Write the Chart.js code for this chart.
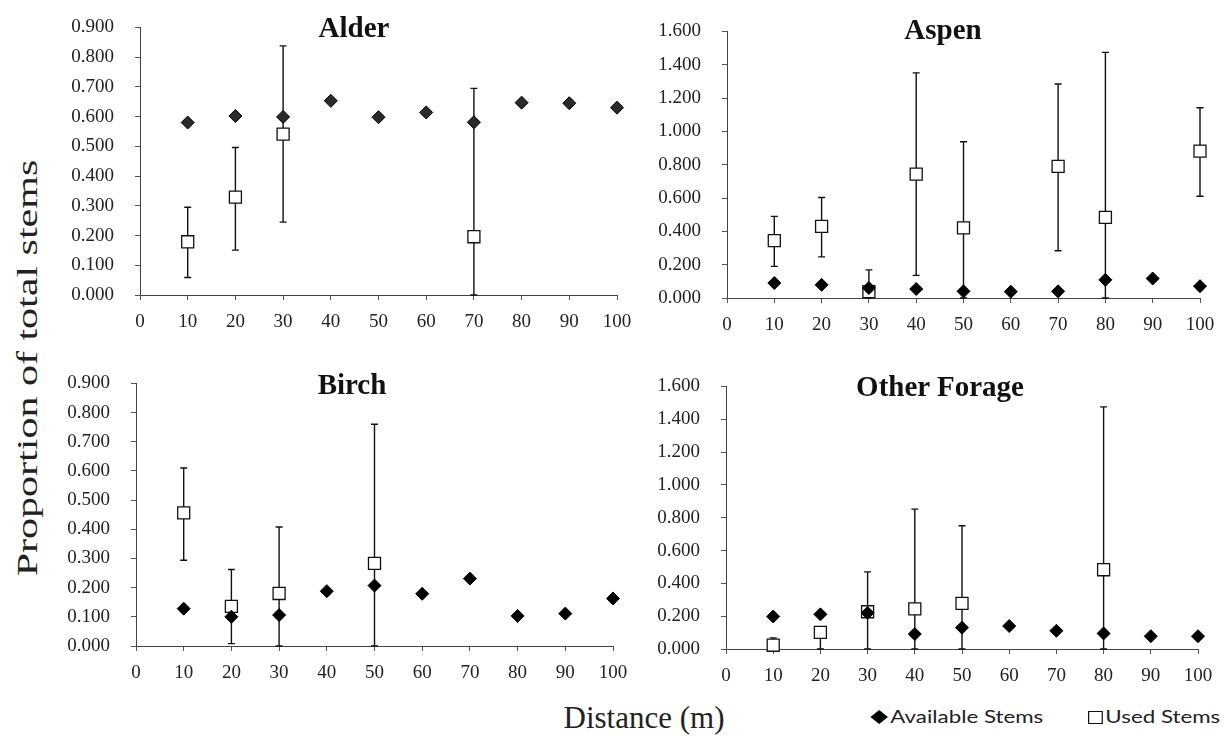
<!DOCTYPE html>
<html>
<head>
<meta charset="utf-8">
<script src="https://cdn.jsdelivr.net/npm/chart.js@4"></script>
<style>
  body { margin: 0; background: #fff; width: 1231px; height: 742px; position: relative; overflow: hidden; font-family: "Liberation Serif", serif; }
  canvas { position: absolute; }
  .t { position: absolute; transform: translate(-50%, -50%); white-space: nowrap; line-height: 1; color: #111; }
  .ptitle { font: bold 29px "Liberation Serif", "Times New Roman", serif; }
  .axt { font: 31px "Liberation Serif", "Times New Roman", serif; color: #222; }
  .leg { position: absolute; top: 705px; font: 18px Lato, "Open Sans", sans-serif; color: #222; white-space: nowrap; transform: scaleX(1.24); transform-origin: left center; }
  .dia { display: inline-block; width: 10px; height: 10px; background: #000; transform: rotate(45deg); margin-right: 4px; vertical-align: 1px; }
  .sq { display: inline-block; width: 10px; height: 11px; border: 1.3px solid #111; margin-right: 2px; vertical-align: -1px; }
</style>
</head>
<body>
<canvas id="alder"></canvas>
<canvas id="aspen"></canvas>
<canvas id="birch"></canvas>
<canvas id="other"></canvas>

<div class="t ptitle" style="left:354px; top:27px;">Alder</div>
<div class="t ptitle" style="left:943px; top:29px;">Aspen</div>
<div class="t ptitle" style="left:352px; top:384px;">Birch</div>
<div class="t ptitle" style="left:940px; top:386px;">Other Forage</div>
<div class="t axt" style="left:27px; top:368px; font-size:30px; transform: translate(-50%, -50%) rotate(-90deg) scaleX(1.4);">Proportion of total stems</div>
<div class="t axt" style="left:644px; top:718px;">Distance (m)</div>
<div class="leg" style="left:873px;"><span class="dia"></span>Available Stems</div>
<div class="leg" style="left:1088px;"><span class="sq"></span>Used Stems</div>

<script>
// distance classes (m)
var distances = [10, 20, 30, 40, 50, 60, 70, 80, 90, 100];

// Alder
var alderAvailable = [0.580, 0.602, 0.599, 0.653, 0.598, 0.614, 0.581, 0.647, 0.645, 0.630];
var alderUsed      = [0.179, 0.329, 0.541, null, null, null, 0.196, null, null, null];
var alderUsedHigh  = [0.295, 0.496, 0.838, null, null, null, 0.695, null, null, null];
var alderUsedLow   = [0.059, 0.151, 0.245, null, null, null, 0.000, null, null, null];

// Aspen
var aspenAvailable = [0.090, 0.079, 0.060, 0.054, 0.040, 0.038, 0.040, 0.109, 0.117, 0.071];
var aspenUsed      = [0.344, 0.430, 0.038, 0.743, 0.421, null, 0.790, 0.484, null, 0.881];
var aspenUsedHigh  = [0.490, 0.603, 0.169, 1.351, 0.938, null, 1.284, 1.474, null, 1.142];
var aspenUsedLow   = [0.190, 0.247, 0.000, 0.136, 0.000, null, 0.284, 0.000, null, 0.611];

// Birch
var birchAvailable = [0.128, 0.100, 0.106, 0.188, 0.207, 0.179, 0.231, 0.103, 0.111, 0.163];
var birchUsed      = [0.456, 0.136, 0.180, null, 0.283, null, null, null, null, null];
var birchUsedHigh  = [0.610, 0.262, 0.408, null, 0.760, null, null, null, null, null];
var birchUsedLow   = [0.294, 0.008, 0.000, null, 0.000, null, null, null, null, null];

// Other forage
var otherAvailable = [0.198, 0.211, 0.220, 0.091, 0.130, 0.140, 0.111, 0.095, 0.078, 0.078];
var otherUsed      = [0.023, 0.101, 0.227, 0.245, 0.278, null, null, 0.483, null, null];
var otherUsedHigh  = [0.068, 0.120, 0.470, 0.852, 0.751, null, null, 1.475, null, null];
var otherUsedLow   = [0.000, 0.000, 0.000, 0.000, 0.000, null, null, 0.000, null, null];

var xTicks = [0, 10, 20, 30, 40, 50, 60, 70, 80, 90, 100];

var AXW = 90, PADT = 20, PADR = 30, AXH = 45;
var serif = "Liberation Serif";
Chart.defaults.font.family = serif;

function points(vals) {
  var out = [];
  for (var i = 0; i < distances.length; i++) {
    if (vals[i] !== null) out.push({ x: distances[i], y: vals[i] });
  }
  return out;
}

var errorBars = {
  id: "errorBars",
  beforeDatasetsDraw: function (chart) {
    var o = chart.options.plugins.errorBars;
    var ctx = chart.ctx, xs = chart.scales.x, ys = chart.scales.y;
    ctx.save();
    ctx.strokeStyle = "#111";
    ctx.lineWidth = 1.4;
    for (var i = 0; i < distances.length; i++) {
      if (o.high[i] === null) continue;
      var px = xs.getPixelForValue(distances[i]);
      var yh = ys.getPixelForValue(o.high[i]);
      var yl = ys.getPixelForValue(o.low[i]);
      ctx.beginPath();
      ctx.moveTo(px, yh); ctx.lineTo(px, yl);
      ctx.moveTo(px - 3.5, yh); ctx.lineTo(px + 3.5, yh);
      ctx.moveTo(px - 3.5, yl); ctx.lineTo(px + 3.5, yl);
      ctx.stroke();
    }
    ctx.restore();
  }
};

function makePanel(id, box, yMax, yStep, avail, used, high, low, diaColor) {
  var cv = document.getElementById(id);
  var w = box.r - box.l + AXW + PADR;
  var h = box.b - box.t + PADT + AXH;
  cv.width = w; cv.height = h;
  cv.style.left = (box.l - AXW) + "px";
  cv.style.top = (box.t - PADT) + "px";

  new Chart(cv.getContext("2d"), {
    type: "scatter",
    data: {
      datasets: [
        {
          label: "Available Stems",
          data: points(avail),
          pointStyle: "rectRot",
          pointRadius: 6.5,
          backgroundColor: diaColor,
          borderColor: "#000",
          borderWidth: 1,
          clip: false
        },
        {
          label: "Used Stems",
          data: points(used),
          pointStyle: "rect",
          pointRadius: 8.5,
          backgroundColor: "#fff",
          borderColor: "#111",
          borderWidth: 1.3,
          clip: false
        }
      ]
    },
    options: {
      responsive: false,
      animation: false,
      layout: { padding: { left: 0, top: PADT, right: PADR, bottom: 0 } },
      plugins: {
        legend: { display: false },
        tooltip: { enabled: false },
        errorBars: { high: high, low: low }
      },
      scales: {
        x: {
          type: "linear",
          min: 0, max: 100,
          afterBuildTicks: function (s) { s.ticks = xTicks.map(function (v) { return { value: v }; }); },
          afterFit: function (s) { s.height = AXH; },
          grid: { drawOnChartArea: false, drawTicks: true, tickLength: 5, color: "#555" },
          border: { display: true, color: "#444", width: 1 },
          ticks: { padding: 11, color: "#222", font: { family: serif, size: 19 }, maxRotation: 0 }
        },
        y: {
          min: 0, max: yMax,
          afterFit: function (s) { s.width = AXW; },
          grid: { drawOnChartArea: false, drawTicks: true, tickLength: 5, color: "#555" },
          border: { display: true, color: "#444", width: 1 },
          ticks: {
            stepSize: yStep,
            padding: 21,
            color: "#222",
            font: { family: serif, size: 19 },
            callback: function (v) { return Number(v).toFixed(3); }
          }
        }
      }
    },
    plugins: [errorBars]
  });
}

function drawAll() {
  makePanel("alder", { l: 140, r: 617, t: 15, b: 295 }, 0.9, 0.1, alderAvailable, alderUsed, alderUsedHigh, alderUsedLow, "#2a2a2a");
  makePanel("aspen", { l: 727, r: 1200, t: 19, b: 298 }, 1.6, 0.2, aspenAvailable, aspenUsed, aspenUsedHigh, aspenUsedLow, "#000");
  makePanel("birch", { l: 136, r: 613, t: 371, b: 646 }, 0.9, 0.1, birchAvailable, birchUsed, birchUsedHigh, birchUsedLow, "#000");
  makePanel("other", { l: 726, r: 1198, t: 374, b: 649 }, 1.6, 0.2, otherAvailable, otherUsed, otherUsedHigh, otherUsedLow, "#000");
}

if (document.fonts && document.fonts.load) {
  Promise.all([
    document.fonts.load("19px 'Liberation Serif'"),
    document.fonts.load("bold 29px 'Liberation Serif'")
  ]).then(drawAll, drawAll);
} else {
  drawAll();
}
</script>
</body>
</html>
